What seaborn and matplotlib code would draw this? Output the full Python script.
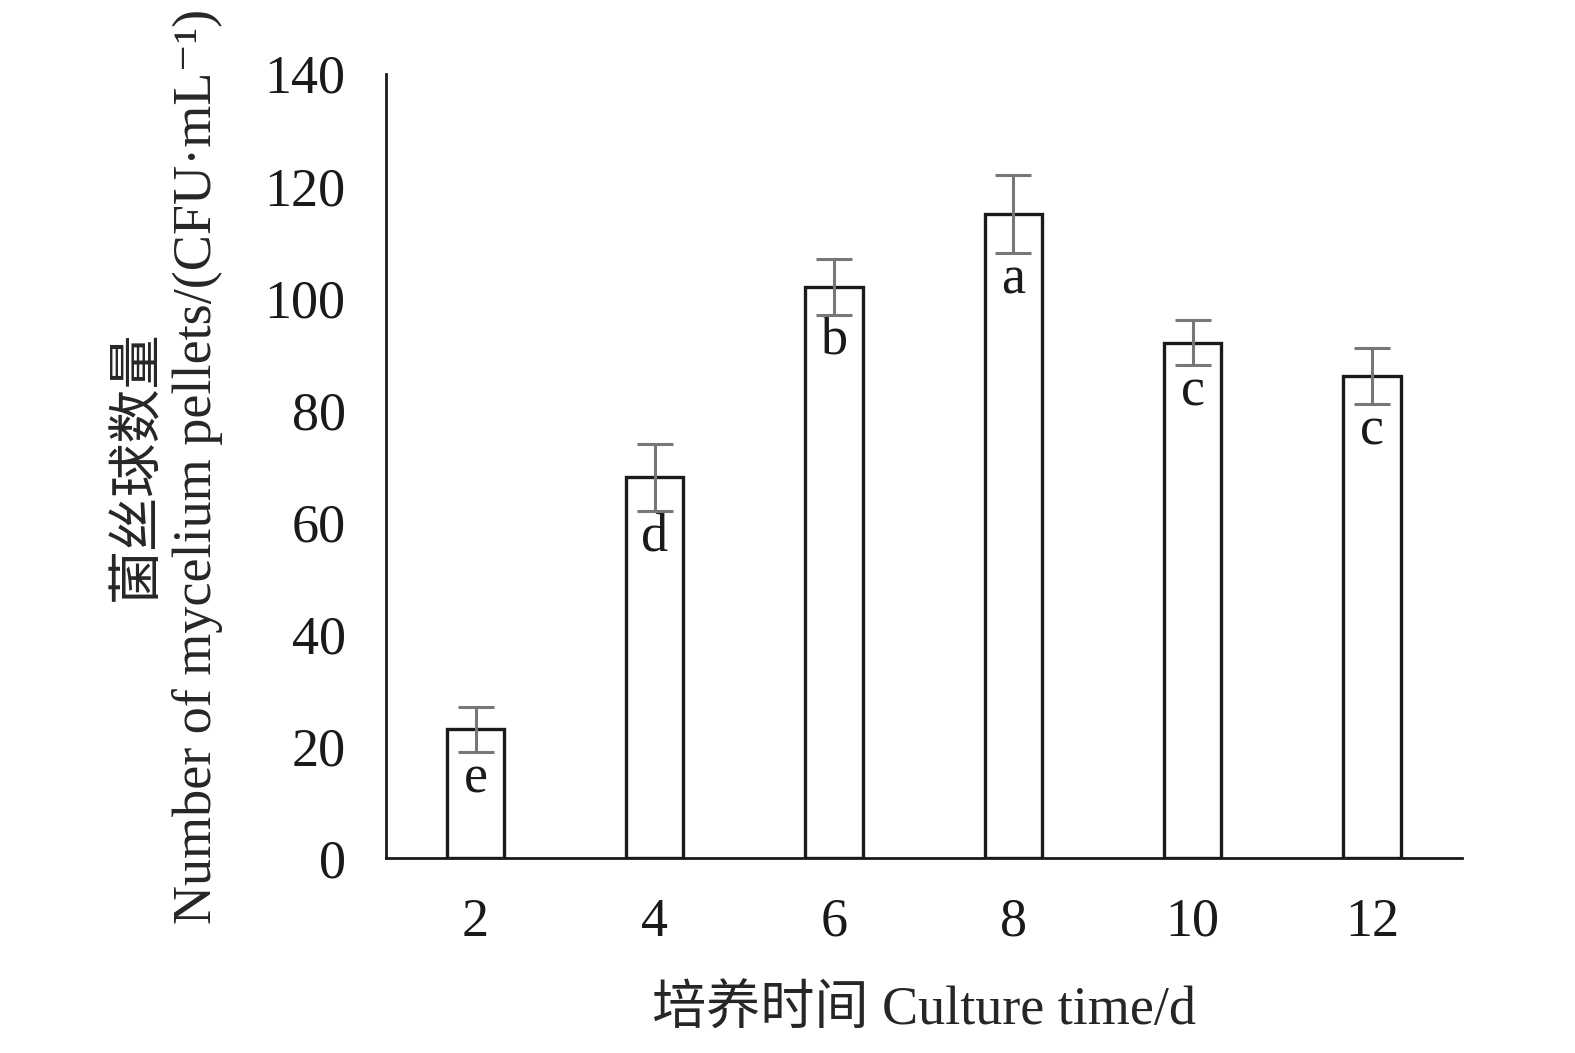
import matplotlib
matplotlib.use('Agg')
import matplotlib.pyplot as plt
import seaborn as sns
import pandas as pd

# data
days = ['2', '4', '6', '8', '10', '12']
pellets = [23, 68, 102, 115, 92, 86]
errs = [4, 6, 5, 7, 4, 5]
letters = ['e', 'd', 'b', 'a', 'c', 'c']

df = pd.DataFrame({'day': days, 'pellets': pellets})

sns.set_style('white')
fam = ['Liberation Serif', 'Noto Sans CJK SC', 'DejaVu Serif']
plt.rcParams['font.family'] = fam
plt.rcParams['font.size'] = 39

fig = plt.figure(figsize=(15.75, 10.53), dpi=100)
ax = fig.add_axes([0.245, 0.185, 0.683, 0.745])

sns.barplot(data=df, x='day', y='pellets', order=days, width=0.32,
            color='white', edgecolor='#1a1a1a', linewidth=2.4,
            errorbar=None, ax=ax)
pos = list(range(len(days)))
ax.errorbar(pos, pellets, yerr=errs, fmt='none', ecolor='#777777',
            elinewidth=2.2, capsize=13, capthick=2.2, zorder=5)

# significance letters under the lower whisker
for p, v, e, t in zip(pos, pellets, errs, letters):
    ax.annotate(t, (p, v - e), xytext=(0, -29), textcoords='offset points',
                ha='center', va='baseline', fontsize=39, color='#1a1a1a')

ax.set_xlim(-0.5, 5.5)
ax.set_ylim(0, 140)
ax.set_yticks(range(0, 141, 20))
for s in ['top', 'right']:
    ax.spines[s].set_visible(False)
for s in ['left', 'bottom']:
    ax.spines[s].set_linewidth(2.0)
    ax.spines[s].set_color('#1a1a1a')
ax.tick_params(axis='y', direction='in', length=7, width=2.0, pad=29,
               labelsize=39, colors='#1a1a1a')
ax.tick_params(axis='x', length=0, pad=28, labelsize=39, colors='#1a1a1a')

ax.set_xlabel('培养时间 Culture time/d', fontsize=39, labelpad=28)
ax.set_ylabel('菌丝球数量\nNumber of mycelium pellets/(CFU·mL⁻¹)',
              fontsize=39, labelpad=30, linespacing=1.2)

fig.savefig('out.png', dpi=100, facecolor='white')
